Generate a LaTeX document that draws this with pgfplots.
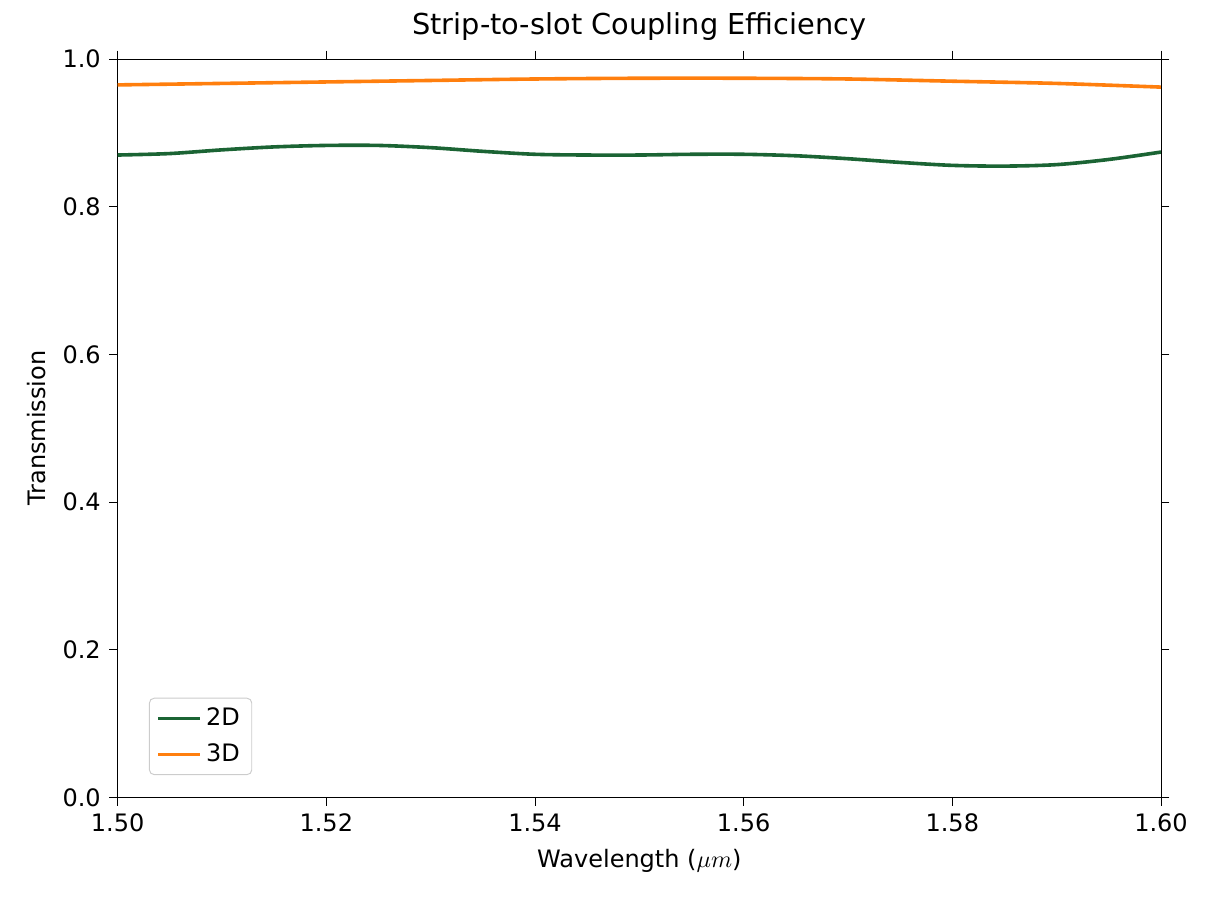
\documentclass[border=0pt]{standalone}
\usepackage{pgfplots}
\pgfplotsset{compat=1.18}
\usepackage{fontspec}
\setmainfont{DejaVu Sans}
\definecolor{g2}{HTML}{1B6434}
\definecolor{o3}{HTML}{FF7F0E}
\begin{document}
\begin{tikzpicture}
\begin{axis}[
  scale only axis, width=434.6pt, height=307.5pt,
  xmin=1.5, xmax=1.6, ymin=0, ymax=1,
  xtick={1.50,1.52,...,1.60}, ytick={0,0.2,...,1},
  xticklabel style={/pgf/number format/.cd,fixed,fixed zerofill,precision=2},
  yticklabel style={/pgf/number format/.cd,fixed,fixed zerofill,precision=1},
  /pgf/number format/assume math mode=true,
  tick align=outside, tick style={black}, major tick length=3.5pt,
  font=\fontsize{10}{12}\selectfont,
  xlabel={Wavelength ($\mu m$)}, ylabel={Transmission},
  title={Strip-to-slot Coupling Efficiency},
  title style={font=\fontsize{12}{14}\selectfont, yshift=-2pt},
  legend pos=south west,
  legend style={draw=black!20, rounded corners=2pt, font=\fontsize{10}{12}\selectfont, row sep=2pt},
  legend cell align=left,
]
\addplot[g2, line width=1.5pt, smooth] coordinates {
(1.500,0.870)(1.505,0.872)(1.510,0.877)(1.515,0.881)(1.520,0.883)(1.525,0.883)(1.530,0.880)(1.535,0.875)(1.540,0.871)(1.545,0.870)(1.550,0.870)(1.555,0.871)(1.560,0.871)(1.565,0.869)(1.570,0.865)(1.575,0.860)(1.580,0.856)(1.585,0.855)(1.590,0.857)(1.595,0.864)(1.600,0.874)};
\addlegendentry{2D}
\addplot[o3, line width=1.5pt, smooth] coordinates {
(1.500,0.965)(1.510,0.967)(1.520,0.969)(1.530,0.971)(1.540,0.973)(1.550,0.974)(1.560,0.974)(1.570,0.973)(1.580,0.970)(1.590,0.967)(1.600,0.962)};
\addlegendentry{3D}
\coordinate (a) at (rel axis cs:0,0);
\coordinate (b) at (rel axis cs:1,1);
\end{axis}
\pgfresetboundingbox
\path ([shift={(-49pt,-43.3pt)}]a) rectangle ([shift={(20pt,24.6pt)}]b);
\end{tikzpicture}
\end{document}
